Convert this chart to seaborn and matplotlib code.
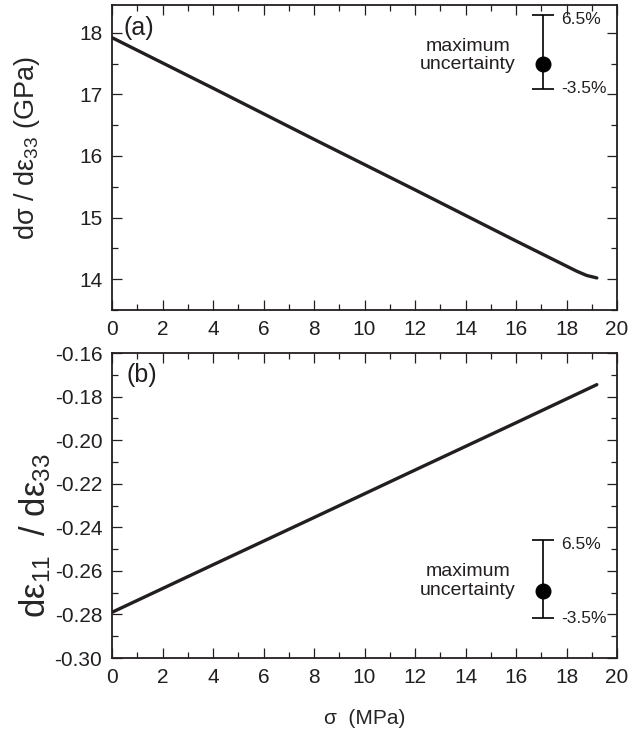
import matplotlib
matplotlib.use("Agg")
import matplotlib.pyplot as plt
from matplotlib.ticker import MultipleLocator, FormatStrFormatter
import seaborn as sns
import pandas as pd

# ---- data ----
stress_a = [0, 4, 8, 12, 16, 18.4, 18.8, 19.2]
modulus_a = [17.92, 17.10, 16.27, 15.45, 14.62, 14.13, 14.06, 14.02]

stress_b = [0, 4, 8, 12, 16, 19.2]
ratio_b = [-0.279, -0.2572, -0.2355, -0.2137, -0.192, -0.1745]

unc_x = [17.07]
unc_a = [17.50]
unc_a_lo = [17.09]
unc_a_hi = [18.29]
unc_b = [-0.2693]
unc_b_lo = [-0.2817]
unc_b_hi = [-0.2459]
unc_labels = ["6.5%", "-3.5%"]

sns.set_style("ticks")
plt.rcParams["font.family"] = ["Liberation Sans", "DejaVu Sans"]
plt.rcParams["mathtext.fontset"] = "custom"
plt.rcParams["mathtext.rm"] = "Liberation Sans"
plt.rcParams["mathtext.it"] = "Liberation Sans:italic"
plt.rcParams["axes.edgecolor"] = "#231f20"

fig = plt.figure(figsize=(6.3, 7.34), dpi=100)
ax1 = fig.add_axes([0.1778, 0.5777, 0.8016, 0.4155])
ax2 = fig.add_axes([0.1778, 0.1035, 0.8016, 0.4155])

dfa = pd.DataFrame({"s": stress_a, "v": modulus_a})
dfb = pd.DataFrame({"s": stress_b, "v": ratio_b})
line_col = "#231f20"
sns.lineplot(data=dfa, x="s", y="v", ax=ax1, color=line_col, linewidth=2.4)
sns.lineplot(data=dfb, x="s", y="v", ax=ax2, color=line_col, linewidth=2.4)

for ax in (ax1, ax2):
    ax.set_xlim(0, 20)
    ax.xaxis.set_major_locator(MultipleLocator(2))
    ax.xaxis.set_minor_locator(MultipleLocator(1))
    ax.tick_params(which="both", direction="in", top=True, right=True,
                   labelsize=15, colors="#231f20", width=0.9)
    ax.tick_params(which="major", length=7)
    ax.tick_params(which="minor", length=4)
    ax.tick_params(axis="x", pad=7)
    ax.tick_params(axis="y", pad=7)
    for sp in ax.spines.values():
        sp.set_linewidth(1.3)
        sp.set_visible(True)
    ax.set_xlabel("")

ax1.set_ylim(13.5, 18.45)
ax1.yaxis.set_major_locator(MultipleLocator(1))
ax1.yaxis.set_minor_locator(MultipleLocator(0.5))
ax1.set_ylabel("dσ / dε$_{33}$ (GPa)", fontsize=19.5)

ax2.set_ylim(-0.30, -0.16)
ax2.yaxis.set_major_locator(MultipleLocator(0.02))
ax2.yaxis.set_minor_locator(MultipleLocator(0.01))
ax2.yaxis.set_major_formatter(FormatStrFormatter("%.2f"))
ax2.set_ylabel("dε$_{11}$  / dε$_{33}$", fontsize=25)
ax2.set_xlabel("σ  (MPa)", fontsize=15, labelpad=16)

ax1.yaxis.set_label_coords(-0.138, 0.53)
ax2.yaxis.set_label_coords(-0.117, 0.40)

ax1.text(0.022, 0.925, "(a)", transform=ax1.transAxes, fontsize=18, ha="left", va="center", color=line_col)
ax2.text(0.028, 0.928, "(b)", transform=ax2.transAxes, fontsize=18, ha="left", va="center", color=line_col)

for ax, y, lo, hi, ty in ((ax1, unc_a, unc_a_lo, unc_a_hi, 17.63),
                          (ax2, unc_b, unc_b_lo, unc_b_hi, -0.2647)):
    yerr = [[y[0] - lo[0]], [hi[0] - y[0]]]
    ax.errorbar(unc_x, y, yerr=yerr, fmt="o", color="black", markersize=10.5,
                elinewidth=1.2, capsize=8.0, capthick=1.2)
    ax.text(14.1, ty, "maximum\nuncertainty", ha="center", va="center",
            multialignment="center", fontsize=14, color=line_col, linespacing=1.15)
    ax.annotate(unc_labels[0], (17.8, hi[0]), xytext=(0, -3), textcoords="offset points",
                ha="left", va="center", fontsize=12.5, color=line_col)
    ax.annotate(unc_labels[1], (17.8, lo[0]), xytext=(0, 0), textcoords="offset points",
                ha="left", va="center", fontsize=12.5, color=line_col)

fig.savefig("out.png", dpi=100)
